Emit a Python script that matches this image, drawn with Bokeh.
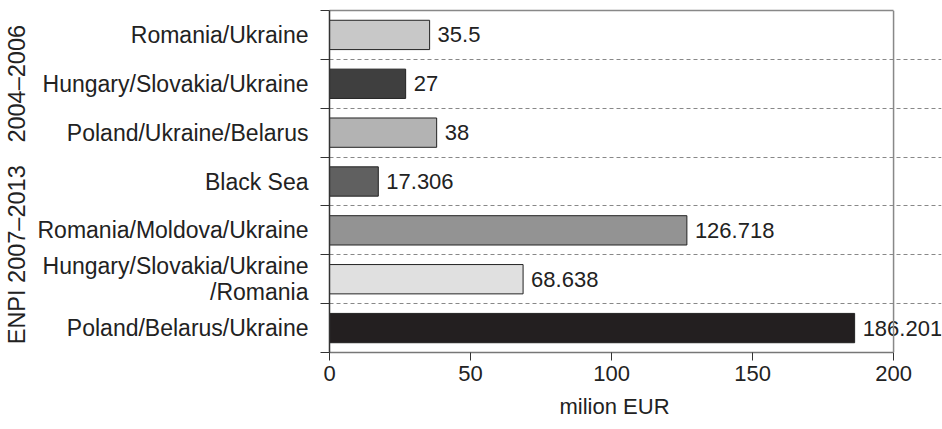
from bokeh.plotting import figure
from bokeh.models import (ColumnDataSource, FixedTicker, LinearAxis, LabelSet, Title,
                          Range1d, Span)
from bokeh.core.properties import value
from bokeh.embed import file_html
from bokeh.resources import INLINE

categories = ["Romania/Ukraine", "Hungary/Slovakia/Ukraine", "Poland/Ukraine/Belarus",
              "Black Sea", "Romania/Moldova/Ukraine", "Hungary/Slovakia/Ukraine\n/Romania",
              "Poland/Belarus/Ukraine"]
values = [35.5, 27, 38, 17.306, 126.718, 68.638, 186.201]
value_labels = ["35.5", "27", "38", "17.306", "126.718", "68.638", "186.201"]
colors = ["#c8c8c8", "#3f3f3f", "#b3b3b3", "#606060", "#939393", "#e0e0e0", "#231f20"]
groups = ["2004\u20132006", "ENPI 2007\u20132013"]
group_sizes = [3, 4]
x_ticks = [0, 50, 100, 150, 200]
x_max = 200
x_title = "milion EUR"

FONT = "Liberation Sans"
FS = "22px"
TXT = "#222222"

n = len(categories)
ys = [n - 0.5 - i for i in range(n)]

src = ColumnDataSource(dict(y=ys, v=values, lab=value_labels, c=colors))

p = figure(width=942, height=429, x_range=Range1d(0, 217), y_range=Range1d(0, n),
           output_backend="svg", toolbar_location=None,
           min_border_left=329, min_border_right=1, min_border_top=10, min_border_bottom=77)

p.hbar(y="y", right="v", left=0, height=0.6, fill_color="c", line_color="#222222",
       line_width=1, source=src)

labels = LabelSet(x="v", y="y", text="lab", source=src, x_offset=8, text_baseline="middle",
                  text_font=value(FONT), text_font_size=value(FS), text_color=TXT)
p.add_layout(labels)

# grid
p.xgrid.visible = False
p.ygrid.ticker = FixedTicker(ticks=list(range(1, n)))
p.ygrid.bounds = (0, x_max)
p.ygrid.grid_line_color = "#888888"
p.ygrid.grid_line_dash = "4 3"
p.ygrid.grid_line_width = 1

p.outline_line_color = None

# x axis (below)
xa = p.below[0]
xa.ticker = FixedTicker(ticks=x_ticks)
xa.bounds = (0, x_max)
xa.major_tick_in = 0
xa.major_tick_out = 8
xa.minor_tick_line_color = None
xa.axis_line_color = "#777777"
xa.axis_line_width = 1.5
xa.major_tick_line_color = "#333333"
xa.major_label_text_font = FONT
xa.major_label_text_font_size = FS
xa.major_label_text_color = TXT
xa.major_label_standoff = 5

# x title, under the 0..200 span
p.add_layout(Title(text=x_title, align="left", offset=230, standoff=16,
                   text_font=FONT, text_font_size=FS, text_font_style="normal",
                   text_line_height=1.0, text_color=TXT), "below")

# frame top & right borders
top_axis = LinearAxis(ticker=FixedTicker(ticks=[]), bounds=(0, x_max))
top_axis.axis_line_color = "#888888"
top_axis.axis_line_width = 1.5
top_axis.major_tick_line_color = None
top_axis.minor_tick_line_color = None
top_axis.major_tick_out = 0
top_axis.major_tick_in = 0
top_axis.major_label_standoff = 0
top_axis.major_label_text_font_size = "0px"
p.add_layout(top_axis, "above")
p.add_layout(Span(location=x_max, dimension="height", line_color="#888888", line_width=1.5))

# y category axis
ya = p.left[0]
ya.ticker = FixedTicker(ticks=ys, minor_ticks=list(range(0, n + 1)))
ya.major_label_overrides = {y: c for y, c in zip(ys, categories)}
ya.major_tick_line_color = None
ya.major_tick_in = 0
ya.major_tick_out = 0
ya.minor_tick_in = 0
ya.minor_tick_out = 9
ya.minor_tick_line_color = "#333333"
ya.axis_line_color = "#333333"
ya.axis_line_width = 1.5
ya.major_label_text_font = FONT
ya.major_label_text_font_size = "23px"
ya.major_label_text_color = TXT
ya.major_label_text_line_height = 1.0
ya.major_label_standoff = 12

# group axis (rotated labels)
centers = []
top = n
for s in group_sizes:
    centers.append(top - s / 2)
    top -= s
ga = LinearAxis(ticker=FixedTicker(ticks=centers),
                major_label_overrides={c: g for c, g in zip(centers, groups)})
ga.axis_line_color = None
ga.major_tick_line_color = None
ga.minor_tick_line_color = None
ga.major_tick_out = 0
ga.major_tick_in = 0
ga.major_label_orientation = "parallel"
ga.major_label_standoff = 4
ga.major_label_text_font = FONT
ga.major_label_text_font_size = "23.5px"
ga.major_label_text_color = TXT
p.add_layout(ga, "left")

open("out.html", "w").write(file_html(p, INLINE))
